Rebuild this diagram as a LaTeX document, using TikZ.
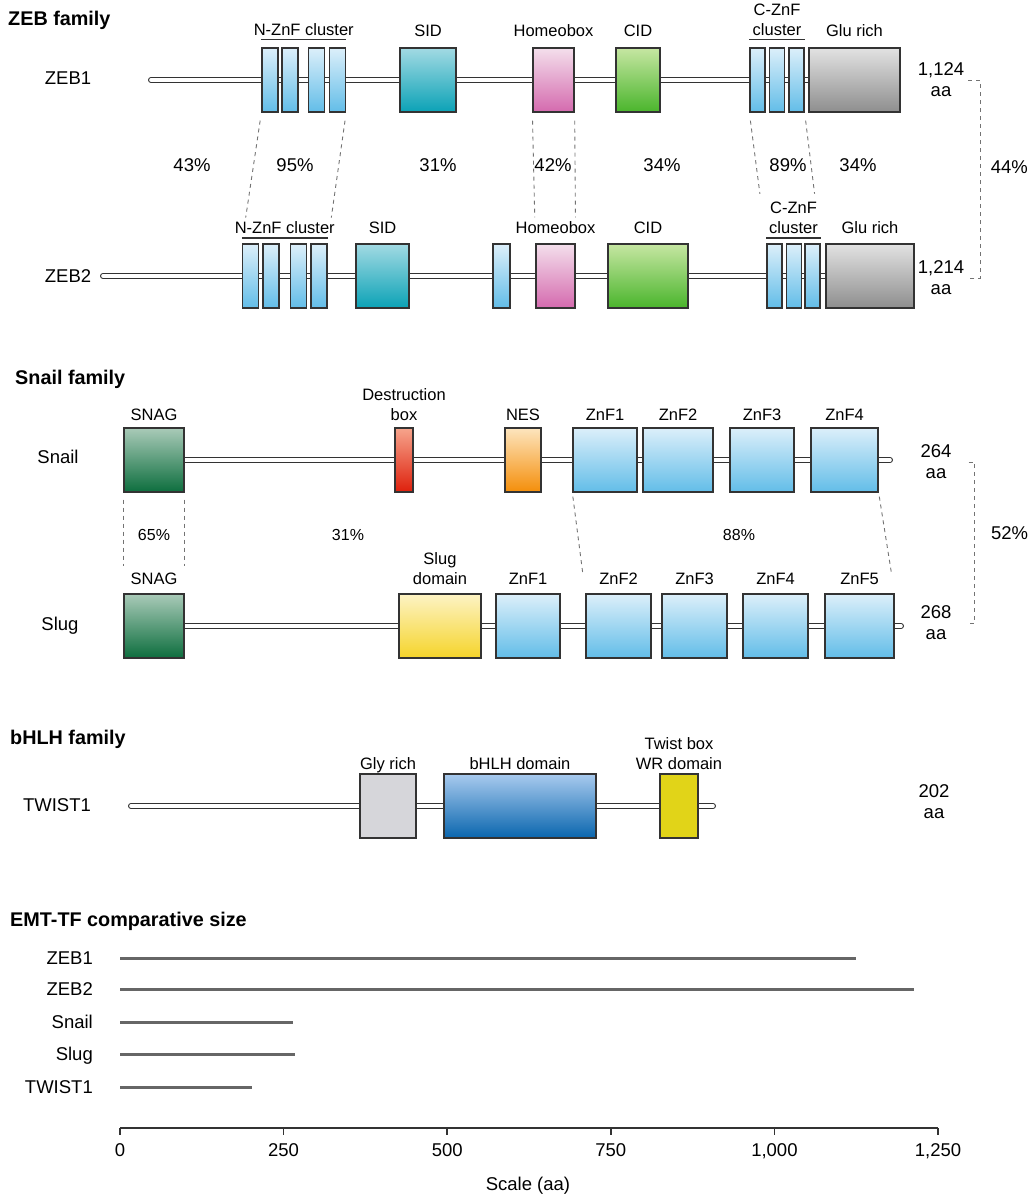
\documentclass[tikz,border=0pt]{standalone}
\usepackage{fontspec}
\setmainfont{Liberation Sans}
\usetikzlibrary{positioning,backgrounds}

\definecolor{znfTop}{HTML}{DCEFFA}
\definecolor{znfBot}{HTML}{62BDE8}
\definecolor{sidTop}{HTML}{A2DAE3}
\definecolor{sidBot}{HTML}{0BA2B6}
\definecolor{hoxTop}{HTML}{F4DFEC}
\definecolor{hoxBot}{HTML}{D46AAE}
\definecolor{cidTop}{HTML}{C6E6A2}
\definecolor{cidBot}{HTML}{4AB52C}
\definecolor{gluTop}{HTML}{E2E2E2}
\definecolor{gluBot}{HTML}{8E8E8E}
\definecolor{snagTop}{HTML}{A9CAB8}
\definecolor{snagBot}{HTML}{0D6E3E}
\definecolor{dboxTop}{HTML}{F6A48C}
\definecolor{dboxBot}{HTML}{DE200C}
\definecolor{nesTop}{HTML}{FDE5BE}
\definecolor{nesBot}{HTML}{F48E0A}
\definecolor{slugTop}{HTML}{FDF3C4}
\definecolor{slugBot}{HTML}{F5D42A}
\definecolor{glyFill}{HTML}{D6D6DA}
\definecolor{bhlhTop}{HTML}{A8CAEE}
\definecolor{bhlhBot}{HTML}{0A66AE}
\definecolor{twistFill}{HTML}{E1D418}

\begin{document}
\begin{tikzpicture} [
		x = 1pt,
		y = -1pt,
		famtitle/.style = {
			font = \fontsize{19.8}{23}\selectfont\bfseries,
			anchor = base west,
			inner sep = 0pt,
		},
		gene/.style = {
			font = \fontsize{18.5}{21}\selectfont,
			inner sep = 0pt,
			text depth = 0pt,
		},
		aalen/.style = {
			gene,
			align = center,
		},
		pct/.style = {
			gene,
		},
		pct-small/.style = {
			gene,
			font = \fontsize{16}{19}\selectfont,
		},
		domlabel/.style = {
			font = \fontsize{16.5}{20}\selectfont,
			inner sep = 0pt,
			text depth = 0pt,
			align = center,
		},
		dombox/.style = {
			draw = black!80,
			line width = 1.3pt,
			inner sep = 0pt,
			minimum height = 64pt,
		},
		znf/.style = {top color = znfTop, bottom color = znfBot},
		sid/.style = {top color = sidTop, bottom color = sidBot},
		hox/.style = {top color = hoxTop, bottom color = hoxBot},
		cid/.style = {top color = cidTop, bottom color = cidBot},
		glu/.style = {top color = gluTop, bottom color = gluBot},
		snag/.style = {top color = snagTop, bottom color = snagBot},
		dbox/.style = {top color = dboxTop, bottom color = dboxBot},
		nes/.style = {top color = nesTop, bottom color = nesBot},
		slugd/.style = {top color = slugTop, bottom color = slugBot},
		gly/.style = {fill = glyFill},
		bhlh/.style = {top color = bhlhTop, bottom color = bhlhBot},
		twbox/.style = {fill = twistFill},
		backbone/.style = {
			draw = black!80,
			line width = 1.2pt,
			double = white,
			double distance = 3.6pt,
			line cap = round,
		},
		homology/.style = {
			draw = black!55,
			line width = 0.9pt,
			dash pattern = on 4pt off 4pt,
		},
		cluster/.style = {
			draw = black!80,
			line width = 1.3pt,
		},
		sizebar/.style = {
			draw = black!60,
			line width = 3pt,
		},
		scale-axis/.style = {
			draw = black!80,
			line width = 1.6pt,
		}
	]
	\useasboundingbox (0,0) rectangle (1032,1197);

	% ZEB family
	\node[famtitle] (zebTitle) at (8,25) {ZEB family};
	\node[gene] (zeb1) at (68,78) {ZEB1};
	\node[gene] (zeb2) at (68,276) {ZEB2};

	\coordinate (z1start) at (151,80);
	\node[dombox, znf, minimum width = 16pt] (z1n1) at (270,80) {};
	\node[dombox, znf, minimum width = 16pt] (z1n2) at (290,80) {};
	\node[dombox, znf, minimum width = 16pt] (z1n3) at (316.5,80) {};
	\node[dombox, znf, minimum width = 16pt] (z1n4) at (337.5,80) {};
	\node[dombox, sid, minimum width = 56pt] (z1sid) at (428,80) {};
	\node[dombox, hox, minimum width = 41pt] (z1hox) at (553.5,80) {};
	\node[dombox, cid, minimum width = 44pt] (z1cid) at (638,80) {};
	\node[dombox, znf, minimum width = 15pt] (z1c1) at (757.5,80) {};
	\node[dombox, znf, minimum width = 15pt] (z1c2) at (777,80) {};
	\node[dombox, znf, minimum width = 15pt] (z1c3) at (796.5,80) {};
	\node[dombox, glu, minimum width = 91pt] (z1glu) at (854.5,80) {};

	\draw[cluster] ([yshift = 8pt]z1n1.north west) -- coordinate (z1nline) ([yshift = 8pt]z1n4.north east);
	\draw[cluster] ([yshift = 8pt]z1c1.north west) -- coordinate (z1cline) ([yshift = 8pt]z1c3.north east);
	\node[domlabel, above = 4pt of z1nline] (z1nL) {N-ZnF cluster};
	\node[domlabel, above = 4pt of z1cline] (z1cL) {C-ZnF\\cluster};
	\node[domlabel, above = 11pt of z1sid] (z1sidL) {SID};
	\node[domlabel, above = 11pt of z1hox] (z1hoxL) {Homeobox};
	\node[domlabel, above = 11pt of z1cid] (z1cidL) {CID};
	\node[domlabel, above = 11pt of z1glu] (z1gluL) {Glu rich};
	\node[aalen] (z1len) at (941,80) {1,124\\aa};

	\coordinate (z2start) at (103,276);
	\node[dombox, znf, minimum width = 16pt] (z2n1) at (250.5,276) {};
	\node[dombox, znf, minimum width = 16pt] (z2n2) at (271,276) {};
	\node[dombox, znf, minimum width = 16pt] (z2n3) at (298.5,276) {};
	\node[dombox, znf, minimum width = 16pt] (z2n4) at (319,276) {};
	\node[dombox, sid, minimum width = 53pt] (z2sid) at (382.5,276) {};
	\node[dombox, znf, minimum width = 17pt] (z2n5) at (501.5,276) {};
	\node[dombox, hox, minimum width = 39pt] (z2hox) at (555.5,276) {};
	\node[dombox, cid, minimum width = 80pt] (z2cid) at (648,276) {};
	\node[dombox, znf, minimum width = 15pt] (z2c1) at (774.5,276) {};
	\node[dombox, znf, minimum width = 15pt] (z2c2) at (794,276) {};
	\node[dombox, znf, minimum width = 15pt] (z2c3) at (812.5,276) {};
	\node[dombox, glu, minimum width = 88pt] (z2glu) at (870,276) {};

	\draw[cluster] ([yshift = 5.5pt]z2n1.north west) -- coordinate (z2nline) ([yshift = 5.5pt]z2n4.north east);
	\draw[cluster] ([yshift = 5.5pt]z2c1.north west) -- coordinate (z2cline) ([yshift = 5.5pt]z2c3.north east);
	\node[domlabel, above = 4.5pt of z2nline] (z2nL) {N-ZnF cluster};
	\node[domlabel, above = 4.5pt of z2cline] (z2cL) {C-ZnF\\cluster};
	\node[domlabel, above = 9.5pt of z2sid] (z2sidL) {SID};
	\node[domlabel, above = 9.5pt of z2hox] (z2hoxL) {Homeobox};
	\node[domlabel, above = 9.5pt of z2cid] (z2cidL) {CID};
	\node[domlabel, above = 9.5pt of z2glu] (z2gluL) {Glu rich};
	\node[aalen] (z2len) at (941,278) {1,214\\aa};

	\node[pct] (p43) at (192,165) {43\%};
	\node[pct] (p95) at (295,165) {95\%};
	\node[pct] (p31) at (438,165) {31\%};
	\node[pct] (p42) at (553,165) {42\%};
	\node[pct] (p34a) at (662,165) {34\%};
	\node[pct] (p89) at (788,165) {89\%};
	\node[pct] (p34b) at (858,165) {34\%};

	\draw[homology, shorten < = 8pt, shorten > = 26pt] (z1n1.south west) -- (z2n1.north west);
	\draw[homology, shorten < = 8pt, shorten > = 26pt] (z1n4.south east) -- (z2n4.north east);
	\draw[homology, shorten < = 8pt, shorten > = 26pt] (z1hox.south west) -- (z2hox.north west);
	\draw[homology, shorten < = 8pt, shorten > = 26pt] (z1hox.south east) -- (z2hox.north east);
	\draw[homology, shorten < = 8pt, shorten > = 50pt] (z1c1.south west) -- (z2c1.north west);
	\draw[homology, shorten < = 8pt, shorten > = 50pt] (z1c3.south east) -- (z2c3.north east);
	\draw[homology] ([xshift = 4pt]z1len.east) -- ++(12,0) |- ([xshift = 4pt]z2len.east)
		node[pct, pos = 0.22, right = 10pt] (p44) {44\%};

	% Snail family
	\node[famtitle] (snailTitle) at (15,384) {Snail family};
	\node[gene] (snail) at (58,457) {Snail};
	\node[gene] (slug) at (60,624) {Slug};

	\coordinate (snend) at (890,460);
	\node[dombox, snag, minimum width = 60pt] (snsnag) at (154,460) {};
	\node[dombox, dbox, minimum width = 18pt] (sndbox) at (404,460) {};
	\node[dombox, nes, minimum width = 36pt] (snnes) at (523,460) {};
	\node[dombox, znf, minimum width = 64pt] (snz1) at (605,460) {};
	\node[dombox, znf, minimum width = 70pt] (snz2) at (678,460) {};
	\node[dombox, znf, minimum width = 64pt] (snz3) at (762,460) {};
	\node[dombox, znf, minimum width = 67pt] (snz4) at (844.5,460) {};

	\node[domlabel, above = 6.5pt of snsnag] (snsnagL) {SNAG};
	\node[domlabel, above = 6.5pt of sndbox] (sndboxL) {Destruction\\box};
	\node[domlabel, above = 6.5pt of snnes] (snnesL) {NES};
	\node[domlabel, above = 6.5pt of snz1] (snz1L) {ZnF1};
	\node[domlabel, above = 6.5pt of snz2] (snz2L) {ZnF2};
	\node[domlabel, above = 6.5pt of snz3] (snz3L) {ZnF3};
	\node[domlabel, above = 6.5pt of snz4] (snz4L) {ZnF4};
	\node[aalen] (snlen) at (936,462) {264\\aa};

	\coordinate (slend) at (901,626);
	\node[dombox, snag, minimum width = 60pt] (slsnag) at (154,626) {};
	\node[dombox, slugd, minimum width = 82pt] (slslug) at (440,626) {};
	\node[dombox, znf, minimum width = 64pt] (slz1) at (528,626) {};
	\node[dombox, znf, minimum width = 65pt] (slz2) at (618.5,626) {};
	\node[dombox, znf, minimum width = 65pt] (slz3) at (694.5,626) {};
	\node[dombox, znf, minimum width = 65pt] (slz4) at (775.5,626) {};
	\node[dombox, znf, minimum width = 69pt] (slz5) at (859.5,626) {};

	\node[domlabel, above = 8.5pt of slsnag] (slsnagL) {SNAG};
	\node[domlabel, above = 8.5pt of slslug] (slslugL) {Slug\\domain};
	\node[domlabel, above = 8.5pt of slz1] (slz1L) {ZnF1};
	\node[domlabel, above = 8.5pt of slz2] (slz2L) {ZnF2};
	\node[domlabel, above = 8.5pt of slz3] (slz3L) {ZnF3};
	\node[domlabel, above = 8.5pt of slz4] (slz4L) {ZnF4};
	\node[domlabel, above = 8.5pt of slz5] (slz5L) {ZnF5};
	\node[aalen] (sllen) at (936,623) {268\\aa};

	\node[pct-small] (p65) at (154,535) {65\%};
	\node[pct-small] (p31s) at (348,535) {31\%};
	\node[pct-small] (p88) at (739,535) {88\%};

	\draw[homology, shorten < = 7pt, shorten > = 27pt] (snsnag.south west) -- (slsnag.north west);
	\draw[homology, shorten < = 7pt, shorten > = 27pt] (snsnag.south east) -- (slsnag.north east);
	\draw[homology, shorten < = 4pt, shorten > = 21pt] (snz1.south west) -- (slz2.north west);
	\draw[homology, shorten < = 4pt, shorten > = 21pt] (snz4.south east) -- (slz5.north east);
	\draw[homology] ([xshift = 17pt]snlen.east) -- ++(6,0) |- ([xshift = 17pt]sllen.east)
		node[pct, pos = 0.22, right = 16pt] (p52) {52\%};

	% bHLH family
	\node[famtitle] (bhlhTitle) at (10,744) {bHLH family};
	\node[gene] (twist1) at (57,805) {TWIST1};

	\coordinate (twstart) at (131,806);
	\coordinate (twend) at (713,806);
	\node[dombox, gly, minimum width = 56pt] (twgly) at (388,806) {};
	\node[dombox, bhlh, minimum width = 152pt] (twbhlh) at (520,806) {};
	\node[dombox, twbox, minimum width = 38pt] (twbox) at (679,806) {};

	\node[domlabel, above = 3.5pt of twgly] (twglyL) {Gly rich};
	\node[domlabel, above = 3.5pt of twbhlh] (twbhlhL) {bHLH domain};
	\node[domlabel, above = 3.5pt of twbox] (twboxL) {Twist box\\WR domain};
	\node[aalen] (twlen) at (934,802) {202\\aa};

	\begin{pgfonlayer}{background}
		\draw[backbone] (z1start) -- (z1glu.west);
		\draw[backbone] (z2start) -- (z2glu.west);
		\draw[backbone] (snsnag.east) -- (snend);
		\draw[backbone] (slsnag.east) -- (slend);
		\draw[backbone] (twstart) -- (twend);
	\end{pgfonlayer}

	% EMT-TF comparative size
	\node[famtitle] (sizeTitle) at (10,926) {EMT-TF comparative size};
	\node[gene, anchor = east] (cZEB1) at (93,958) {ZEB1};
	\node[gene, anchor = east] (cZEB2) at (93,989) {ZEB2};
	\node[gene, anchor = east] (cSnail) at (93,1022) {Snail};
	\node[gene, anchor = east] (cSlug) at (93,1054) {Slug};
	\node[gene, anchor = east] (cTWIST1) at (93,1087) {TWIST1};

	\coordinate (eZEB1) at (855.5,958);
	\coordinate (eZEB2) at (914.4,989);
	\coordinate (eSnail) at (292.8,1022);
	\coordinate (eSlug) at (295.4,1054);
	\coordinate (eTWIST1) at (252.2,1087);

	\draw[sizebar] ([xshift = 27pt]cZEB1.east) -- (eZEB1);
	\draw[sizebar] ([xshift = 27pt]cZEB2.east) -- (eZEB2);
	\draw[sizebar] ([xshift = 27pt]cSnail.east) -- (eSnail);
	\draw[sizebar] ([xshift = 27pt]cSlug.east) -- (eSlug);
	\draw[sizebar] ([xshift = 27pt]cTWIST1.east) -- (eTWIST1);

	\coordinate (ax0) at (120,1128);
	\coordinate (ax1250) at (938,1128);
	\draw[scale-axis] (ax0) -- (ax1250);
	\foreach \v/\t in {0/0, 250/250, 500/500, 750/750, 1000/{1,000}, 1250/{1,250}} {
		\draw[scale-axis] ({120 + 0.6544*\v},1128) -- ++(0,7) node[gene, below = 8pt] (tick\v) {\t};
	}
	\node[gene] (scaleLbl) at (528,1184) {Scale (aa)};
\end{tikzpicture}
\end{document}
